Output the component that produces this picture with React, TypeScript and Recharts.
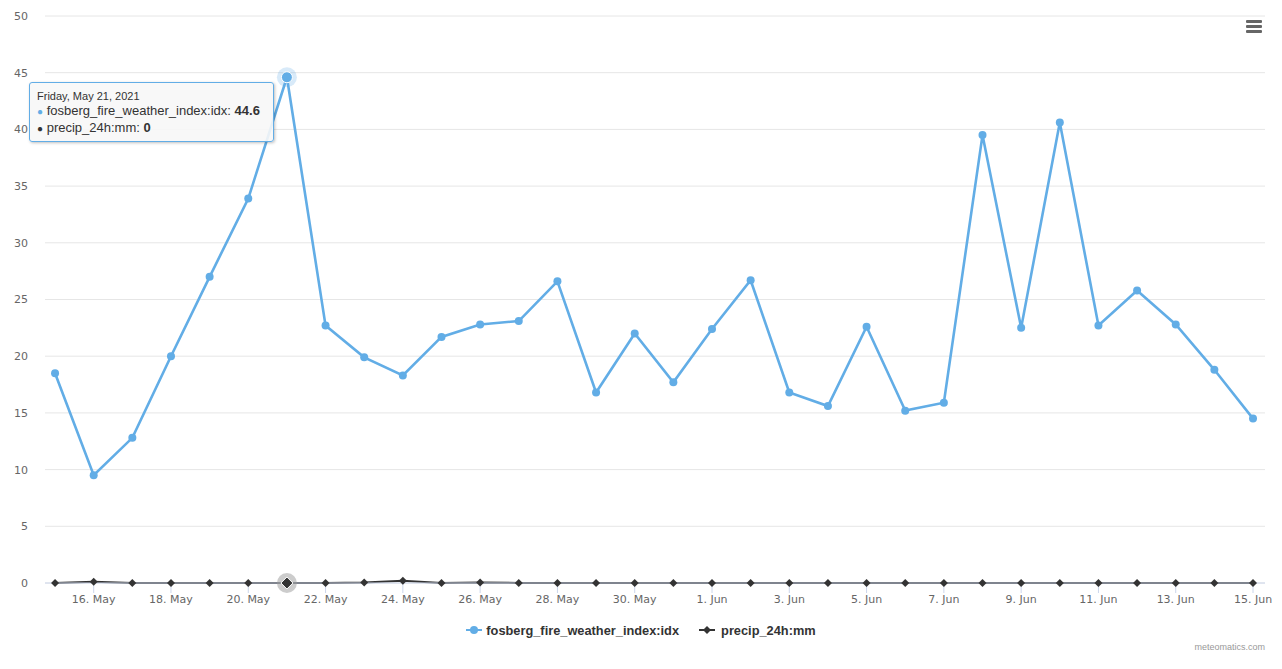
import { LineChart, Line, XAxis, YAxis, CartesianGrid, Tooltip, Legend } from 'recharts';

const DATES = [
  '2021-05-15', '2021-05-16', '2021-05-17', '2021-05-18', '2021-05-19', '2021-05-20', '2021-05-21', '2021-05-22',
  '2021-05-23', '2021-05-24', '2021-05-25', '2021-05-26', '2021-05-27', '2021-05-28', '2021-05-29', '2021-05-30',
  '2021-05-31', '2021-06-01', '2021-06-02', '2021-06-03', '2021-06-04', '2021-06-05', '2021-06-06', '2021-06-07',
  '2021-06-08', '2021-06-09', '2021-06-10', '2021-06-11', '2021-06-12', '2021-06-13', '2021-06-14', '2021-06-15',
];

const FIRE_INDEX = [
  18.5, 9.5, 12.8, 20.0, 27.0, 33.9, 44.6, 22.7,
  19.9, 18.3, 21.7, 22.8, 23.1, 26.6, 16.8, 22.0,
  17.7, 22.4, 26.7, 16.8, 15.6, 22.6, 15.2, 15.9,
  39.5, 22.5, 40.6, 22.7, 25.8, 22.8, 18.8, 14.5,
];

const PRECIP = [
  0, 0.1, 0, 0, 0, 0, 0, 0,
  0.05, 0.2, 0, 0.05, 0, 0, 0, 0,
  0, 0, 0, 0, 0, 0, 0, 0,
  0, 0, 0, 0, 0, 0, 0, 0,
];

const X_TICKS = [1, 3, 5, 7, 9, 11, 13, 15, 17, 19, 21, 23, 25, 27, 29, 31];
const Y_TICKS = [0, 5, 10, 15, 20, 25, 30, 35, 40, 45, 50];
const ACTIVE_INDEX = 6;

const BLUE = '#62ade6';
const DARK = '#333333';
const FONT = '"DejaVu Sans", Verdana, sans-serif';
const FONT2 = '"Liberation Sans", Arial, sans-serif';

const data = DATES.map((d, i) => ({ idx: i, date: d, fire: FIRE_INDEX[i], precip: PRECIP[i] }));

const toDate = (s: string) => new Date(s + 'T00:00:00Z');

const tickLabel = (i: number) => {
  const d = toDate(DATES[i]);
  return `${d.getUTCDate()}. ${d.toLocaleDateString('en-US', { month: 'short', timeZone: 'UTC' })}`;
};

const longDate = (s: string) =>
  toDate(s).toLocaleDateString('en-US', { weekday: 'long', month: 'long', day: 'numeric', year: 'numeric', timeZone: 'UTC' });

const diamond = (cx: number, cy: number, r: number) => `M${cx},${cy - r}L${cx + r},${cy}L${cx},${cy + r}L${cx - r},${cy}Z`;

const FireDot = (props: any) => {
  const { cx, cy, index } = props;
  return <circle key={`f-${index}`} cx={cx} cy={cy} r={4} fill={BLUE} />;
};

const FireActive = (props: any) => {
  const { cx, cy } = props;
  return (
    <g>
      <circle cx={cx} cy={cy} r={10} fill={BLUE} fillOpacity={0.25} />
      <circle cx={cx} cy={cy} r={5.5} fill={BLUE} stroke="#fff" strokeWidth={1} />
    </g>
  );
};

const PrecipDot = (props: any) => {
  const { cx, cy, index } = props;
  return <path key={`p-${index}`} d={diamond(cx, cy, 4)} fill={DARK} />;
};

const PrecipActive = (props: any) => {
  const { cx, cy } = props;
  return (
    <g>
      <circle cx={cx} cy={cy} r={10} fill="#999" fillOpacity={0.5} />
      <path d={diamond(cx, cy, 6)} fill={DARK} stroke="#fff" strokeWidth={1} />
    </g>
  );
};

const TooltipBox = ({ active, payload }: any) => {
  if (!active || !payload || !payload.length) return null;
  const row = payload[0].payload;
  return (
    <div
      style={{
        width: 228,
        background: 'rgba(247,247,247,0.9)',
        border: `1px solid ${BLUE}`,
        borderRadius: 3,
        boxShadow: '1px 1px 3px rgba(0,0,0,0.25)',
        padding: '6px 8px 4px 7px',
        fontFamily: FONT2,
        color: '#333',
        whiteSpace: 'nowrap',
      }}
    >
      <div style={{ fontSize: 11, lineHeight: '14px' }}>{longDate(row.date)}</div>
      <div style={{ fontSize: 13, lineHeight: '16px' }}>
        <span style={{ color: BLUE, fontSize: 10 }}>●</span> fosberg_fire_weather_index:idx: <b>{row.fire}</b>
      </div>
      <div style={{ fontSize: 13, lineHeight: '16px' }}>
        <span style={{ color: DARK, fontSize: 10 }}>●</span> precip_24h:mm: <b>{row.precip}</b>
      </div>
    </div>
  );
};

const LegendBox = () => (
  <div style={{ width: 1282, height: 20, display: 'flex', justifyContent: 'center', alignItems: 'center', fontFamily: FONT2, fontSize: 12.8, fontWeight: 'bold', color: '#333' }}>
    <svg width={16} height={12} style={{ marginRight: 4 }}>
      <line x1={0} y1={6} x2={16} y2={6} stroke={BLUE} strokeWidth={2} />
      <circle cx={8} cy={6} r={4} fill={BLUE} />
    </svg>
    <span style={{ marginRight: 20 }}>fosberg_fire_weather_index:idx</span>
    <svg width={16} height={12} style={{ marginRight: 6 }}>
      <line x1={0} y1={6} x2={16} y2={6} stroke={DARK} strokeWidth={2} />
      <path d={diamond(8, 6, 4)} fill={DARK} />
    </svg>
    <span>precip_24h:mm</span>
  </div>
);

export default function App() {
  return (
    <div style={{ position: 'absolute', left: 0, top: 0, width: 1282, height: 669, background: '#fff' }}>
      <LineChart width={1282} height={669} data={data} margin={{ top: 16, right: 17, bottom: 29, left: 0 }}>
        <CartesianGrid vertical={false} stroke="#e6e6e6" />
        <XAxis
          dataKey="idx"
          type="number"
          domain={[-0.26, 31.31]}
          allowDataOverflow
          ticks={X_TICKS}
          tickFormatter={tickLabel}
          interval={0}
          height={37}
          tickSize={10}
          stroke="#ccd6eb"
          tick={{ fill: '#666', fontSize: 11, fontFamily: FONT }}
        />
        <YAxis
          domain={[0, 50]}
          ticks={Y_TICKS}
          width={45}
          axisLine={false}
          tickLine={false}
          tickMargin={11}
          tick={{ fill: '#666', fontSize: 11, fontFamily: FONT }}
        />
        <Tooltip
          content={<TooltipBox />}
          defaultIndex={ACTIVE_INDEX}
          active
          cursor={false}
          position={{ x: 29, y: 82 }}
          isAnimationActive={false}
          wrapperStyle={{ outline: 'none' }}
        />
        <Legend verticalAlign="bottom" content={<LegendBox />} wrapperStyle={{ left: 0, width: 1282 }} />
        <Line
          type="linear"
          dataKey="fire"
          name="fosberg_fire_weather_index:idx"
          stroke={BLUE}
          strokeWidth={2.6}
          dot={FireDot}
          activeDot={FireActive}
          isAnimationActive={false}
        />
        <Line
          type="linear"
          dataKey="precip"
          name="precip_24h:mm"
          stroke={DARK}
          strokeWidth={2}
          dot={PrecipDot}
          activeDot={PrecipActive}
          isAnimationActive={false}
        />
      </LineChart>
      <div style={{ position: 'absolute', left: 1246, top: 20, width: 16 }}>
        {[0, 1, 2].map((k) => (
          <div key={k} style={{ height: 3, background: '#666', marginBottom: 2, borderRadius: 1 }} />
        ))}
      </div>
      <div style={{ position: 'absolute', right: 17, top: 642, fontFamily: FONT2, fontSize: 9, color: '#999' }}>meteomatics.com</div>
    </div>
  );
}
